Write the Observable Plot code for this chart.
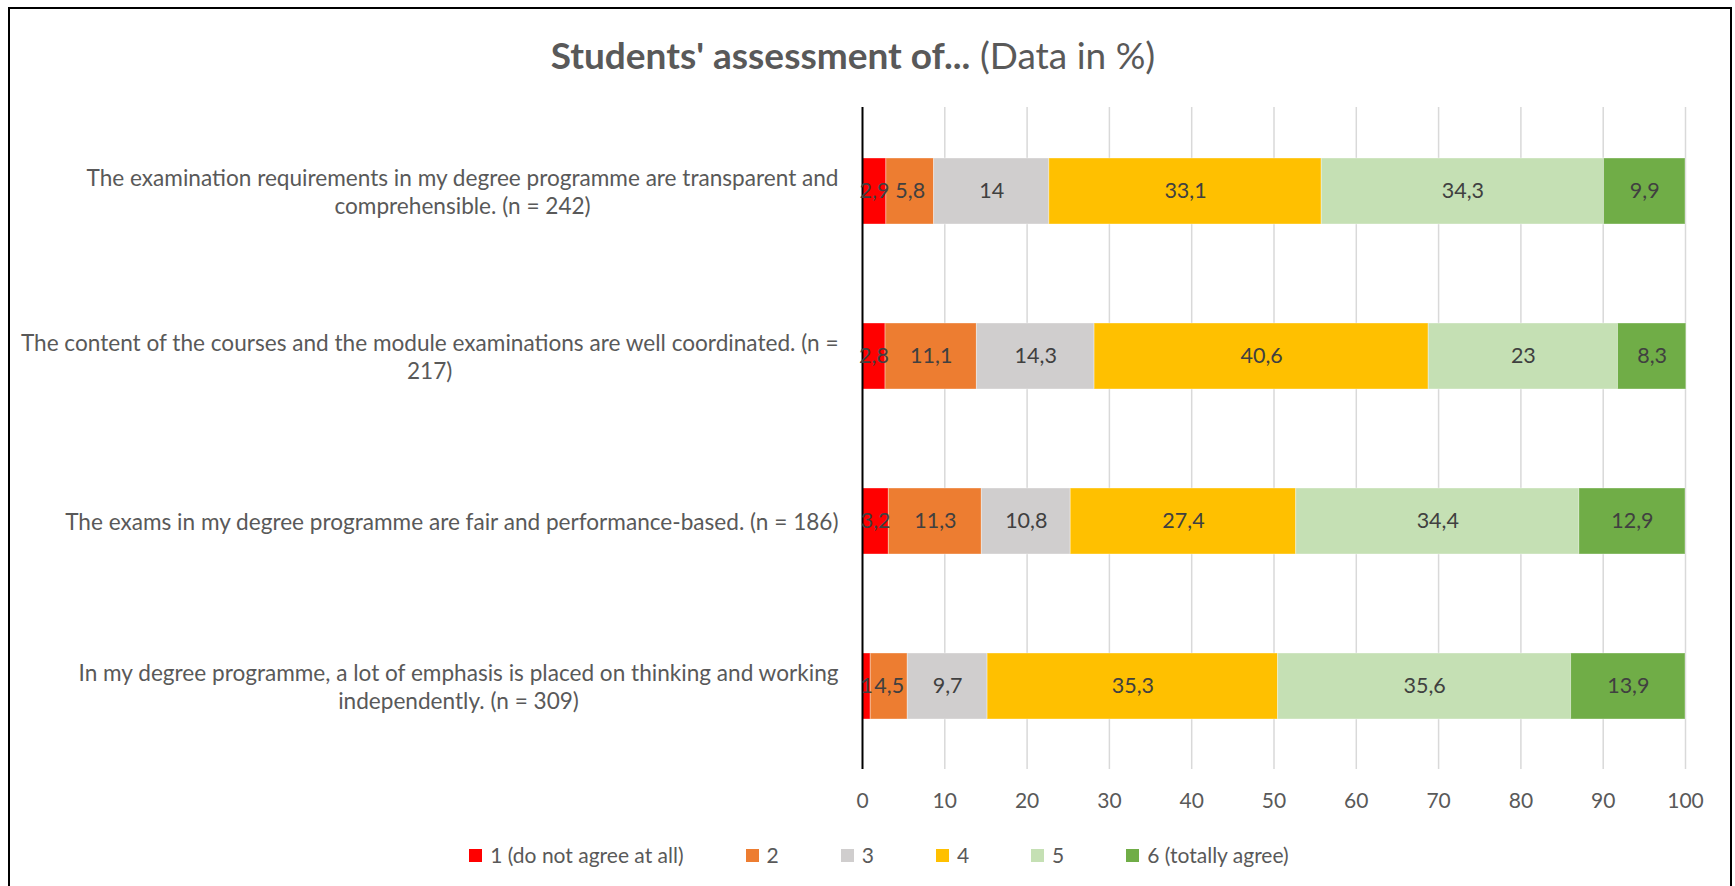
<!DOCTYPE html>
<html>
<head>
<meta charset="utf-8">
<script src="https://cdn.jsdelivr.net/npm/d3@7"></script>
<script src="https://cdn.jsdelivr.net/npm/@observablehq/plot@0.6"></script>
<style>
  html, body { margin: 0; padding: 0; background: #fff; }
  body { width: 1735px; height: 886px; position: relative; overflow: hidden; font-family: Lato, "Open Sans", sans-serif; }
  #frame { position: absolute; left: 8px; top: 7px; width: 1724px; height: 900px; box-sizing: border-box; border: 2.5px solid #000; }
  #title { position: absolute; left: 0; top: 33px; width: 1706px; text-align: center; font-size: 37px; line-height: 44px; color: #595959; }
  #title b { font-weight: 700; }
  #chart { position: absolute; left: 0; top: 80px; }
  #legend { position: absolute; left: 0; top: 843px; width: 1758px; display: flex; justify-content: center; align-items: center; font-size: 21px; line-height: 24px; color: #595959; }
  #legend .item { display: flex; align-items: center; margin: 0 31px; }
  #legend .sw { width: 13px; height: 13px; margin-right: 8px; }
</style>
</head>
<body>
<div id="frame"></div>
<div id="title"><b>Students' assessment of...</b> (Data in %)</div>
<div id="chart"></div>
<div id="legend"></div>
<script>
const questions = [
  "The examination requirements in my degree programme are transparent and\ncomprehensible. (n = 242)",
  "The content of the courses and the module examinations are well coordinated. (n =\n217)",
  "The exams in my degree programme are fair and performance-based. (n = 186)",
  "In my degree programme, a lot of emphasis is placed on thinking and working\nindependently. (n = 309)"
];
const levels = ["1 (do not agree at all)", "2", "3", "4", "5", "6 (totally agree)"];
const colors = ["#FF0000", "#ED7D31", "#D0CECE", "#FFC000", "#C5E0B4", "#70AD47"];
const level1 = [2.9, 2.8, 3.2, 1];
const level2 = [5.8, 11.1, 11.3, 4.5];
const level3 = [14, 14.3, 10.8, 9.7];
const level4 = [33.1, 40.6, 27.4, 35.3];
const level5 = [34.3, 23, 34.4, 35.6];
const level6 = [9.9, 8.3, 12.9, 13.9];
const xTicks = [0, 10, 20, 30, 40, 50, 60, 70, 80, 90, 100];

const series = [level1, level2, level3, level4, level5, level6];
const data = [];
questions.forEach((q, i) => {
  series.forEach((s, j) => data.push({question: q, level: levels[j], value: s[i]}));
});
const fmt = v => String(v).replace(".", ",");

const plot = Plot.plot({
  width: 1735,
  height: 750,
  marginLeft: 862,
  marginRight: 50,
  marginTop: 27,
  marginBottom: 61,
  style: {fontFamily: "Lato, 'Open Sans', sans-serif", fontSize: "21px", color: "#595959", background: "transparent"},
  x: {domain: [0, 100], ticks: xTicks, label: null},
  y: {domain: questions, paddingInner: 0.6, paddingOuter: 0.3, label: null},
  color: {domain: levels, range: colors},
  marks: [
    Plot.ruleX(xTicks.filter(t => t > 0), {stroke: "#D9D9D9", strokeWidth: 1.5}),
    Plot.barX(data, {x: "value", y: "question", fill: "level", stroke: "#fff", strokeOpacity: 0.35, strokeWidth: 1}),
    Plot.ruleX([0], {stroke: "#000", strokeWidth: 2}),
    Plot.text(data, Plot.stackX({x: "value", y: "question", text: d => fmt(d.value), fill: "#404040", fontSize: 21.5})),
    Plot.axisX({ticks: xTicks, tickSize: 0, tickPadding: 24, label: null, fontSize: 21}),
    Plot.axisY({tickSize: 0, tickPadding: 24, label: null, fontSize: 22.6, lineHeight: 1.24, textAnchor: "end"})
  ]
});
document.getElementById("chart").appendChild(plot);

// centre the lines of each y label within its right-aligned block
plot.querySelectorAll('g[aria-label="y-axis tick label"] text').forEach(t => {
  const spans = t.querySelectorAll("tspan");
  let w = 0;
  if (spans.length) spans.forEach(s => { w = Math.max(w, s.getComputedTextLength()); });
  else w = t.getComputedTextLength();
  t.setAttribute("text-anchor", "middle");
  const tr = t.getAttribute("transform") || "";
  t.setAttribute("transform", tr + ` translate(${-w / 2},0)`);
});

const legend = document.getElementById("legend");
levels.forEach((l, i) => {
  const item = document.createElement("div");
  item.className = "item";
  const sw = document.createElement("div");
  sw.className = "sw";
  sw.style.background = colors[i];
  const tx = document.createElement("span");
  tx.textContent = l;
  item.appendChild(sw);
  item.appendChild(tx);
  legend.appendChild(item);
});
</script>
</body>
</html>
